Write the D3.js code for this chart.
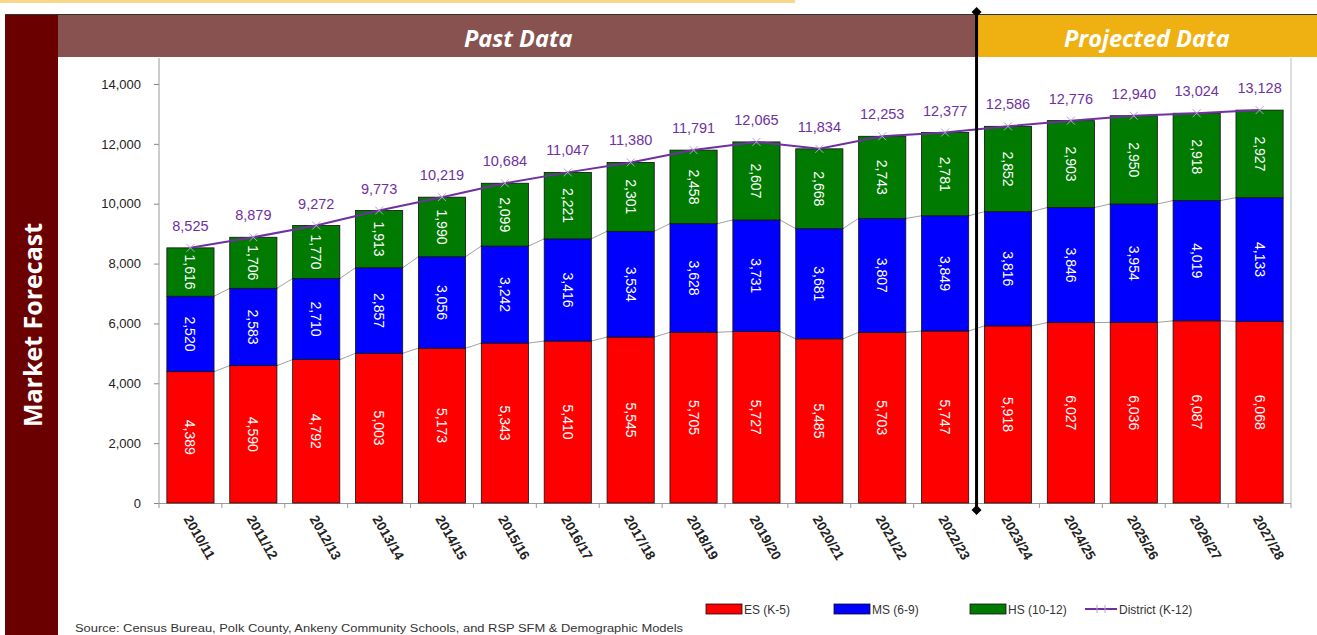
<!DOCTYPE html>
<html><head><meta charset="utf-8">
<script src="https://cdn.jsdelivr.net/npm/d3@7"></script>
<style>body{margin:0;background:#fff;}svg{display:block;}</style>
</head><body>
<svg id="c" width="1317" height="635"></svg>
<script>
const years = ["2010/11","2011/12","2012/13","2013/14","2014/15","2015/16","2016/17","2017/18","2018/19","2019/20","2020/21","2021/22","2022/23","2023/24","2024/25","2025/26","2026/27","2027/28"];
const esValues = [4389,4590,4792,5003,5173,5343,5410,5545,5705,5727,5485,5703,5747,5918,6027,6036,6087,6068];
const msValues = [2520,2583,2710,2857,3056,3242,3416,3534,3628,3731,3681,3807,3849,3816,3846,3954,4019,4133];
const hsValues = [1616,1706,1770,1913,1990,2099,2221,2301,2458,2607,2668,2743,2781,2852,2903,2950,2918,2927];
const districtValues = [8525,8879,9272,9773,10219,10684,11047,11380,11791,12065,11834,12253,12377,12586,12776,12940,13024,13128];
const yTicks = [0,2000,4000,6000,8000,10000,12000,14000];
const pastCount = 13;
const seriesNames = ["ES (K-5)","MS (6-9)","HS (10-12)","District (K-12)"];
const colors = ["#FF0000","#0000FF","#007A00"];
const purple = "#7030A0";

const svg = d3.select("#c");
const L = 159, R = 1291, B = 503, T = 84;
const x = d3.scaleBand().domain(years).range([L, R]).paddingInner(0.25).paddingOuter(0.125);
const y = d3.scaleLinear().domain([0, 14000]).range([B, T]);
const fmt = d3.format(",");
const FONT = "Liberation Sans, Arial, sans-serif";

// top thin line
svg.append("rect").attr("x",0).attr("y",0).attr("width",795).attr("height",3).attr("fill","#F8D68A");
// left bar
svg.append("rect").attr("x",5).attr("y",15).attr("width",53).attr("height",620).attr("fill","#6B0000");
svg.append("text").attr("transform","translate(42,325) rotate(-90)").attr("text-anchor","middle")
  .attr("font-family","Open Sans, sans-serif").attr("font-weight","bold").attr("font-size",25).attr("fill","#fff").text("Market Forecast");

// header bands
const divX = L + (R-L)/years.length*pastCount;
svg.append("rect").attr("x",58).attr("y",15).attr("width",divX-58).attr("height",42).attr("fill","#87524F");
svg.append("rect").attr("x",divX).attr("y",15).attr("width",1317-divX).attr("height",42).attr("fill","#EEB111");
svg.append("line").attr("x1",5).attr("x2",1317).attr("y1",14.5).attr("y2",14.5).attr("stroke","#333").attr("stroke-width",1);
svg.append("text").attr("x",(58+divX)/2+1).attr("y",47).attr("text-anchor","middle").attr("font-family","Open Sans, sans-serif")
  .attr("font-style","italic").attr("font-weight","bold").attr("font-size",23.5).attr("fill","#fff").text("Past Data");
svg.append("text").attr("x",(divX+1317)/2).attr("y",47).attr("text-anchor","middle").attr("font-family","Open Sans, sans-serif")
  .attr("font-style","italic").attr("font-weight","bold").attr("font-size",23.5).attr("fill","#fff").text("Projected Data");

// plot frame line (right)
svg.append("line").attr("x1",R).attr("x2",R).attr("y1",58).attr("y2",B).attr("stroke","#bbb");

// y axis
const yAxis = d3.axisLeft(y).tickValues(yTicks).tickFormat(fmt).tickSize(5).tickSizeOuter(0);
const ga = svg.append("g").attr("transform",`translate(${L},0)`).call(yAxis);
ga.select(".domain").remove();
ga.selectAll(".tick line").attr("stroke","#888");
ga.selectAll("text").attr("font-family",FONT).attr("font-size",13).attr("fill","#222").attr("x",-18);
svg.append("line").attr("x1",L).attr("x2",L).attr("y1",58).attr("y2",B).attr("stroke","#999");

// x axis baseline & ticks at band boundaries
svg.append("line").attr("x1",L).attr("x2",R).attr("y1",B+0.5).attr("y2",B+0.5).attr("stroke","#999");
years.forEach((d,i)=>{
  const bx = L + (R-L)/years.length*i;
  svg.append("line").attr("x1",bx).attr("x2",bx).attr("y1",B).attr("y2",B+5).attr("stroke","#999");
});
svg.append("line").attr("x1",R).attr("x2",R).attr("y1",B).attr("y2",B+5).attr("stroke","#999");
const xAxisG = svg.append("g");
years.forEach(d=>{
  xAxisG.append("text").attr("transform",`translate(${x(d)+x.bandwidth()/2-4},${B+14}) rotate(60)`)
    .attr("font-family",FONT).attr("font-size",13.5).attr("font-weight","bold").attr("fill","#222")
    .attr("dominant-baseline","middle").text(d);
});

// stacked data
const rows = years.map((yr,i)=>({year:yr, es:esValues[i], ms:msValues[i], hs:hsValues[i]}));
const stack = d3.stack().keys(["es","ms","hs"])(rows);

// series lines (connectors)
[0,1].forEach(k=>{
  for(let i=0;i<years.length-1;i++){
    svg.append("line")
      .attr("x1",x(years[i])+x.bandwidth()).attr("y1",y(stack[k][i][1]))
      .attr("x2",x(years[i+1])).attr("y2",y(stack[k][i+1][1]))
      .attr("stroke","#888").attr("stroke-width",0.8);
  }
});

stack.forEach((s,k)=>{
  const g = svg.append("g");
  g.selectAll("rect").data(s).join("rect")
    .attr("x",d=>x(d.data.year)).attr("width",x.bandwidth())
    .attr("y",d=>y(d[1])).attr("height",d=>y(d[0])-y(d[1]))
    .attr("fill",colors[k]).attr("stroke","#111").attr("stroke-width",0.8);
  g.selectAll("text").data(s).join("text")
    .attr("transform",d=>`translate(${x(d.data.year)+x.bandwidth()/2},${(y(d[0])+y(d[1]))/2}) rotate(90)`)
    .attr("text-anchor","middle").attr("dominant-baseline","central")
    .attr("font-family",FONT).attr("font-size",14).attr("fill","#fff")
    .text(d=>fmt(d[1]-d[0]));
});

// district line
const line = d3.line().x((d,i)=>x(years[i])+x.bandwidth()/2).y(d=>y(d));
svg.append("path").datum(districtValues).attr("d",line).attr("fill","none").attr("stroke",purple).attr("stroke-width",2);
districtValues.forEach((v,i)=>{
  const cx = x(years[i])+x.bandwidth()/2, cy = y(v);
  svg.append("path").attr("d",`M${cx-4},${cy-4}L${cx+4},${cy+4}M${cx-4},${cy+4}L${cx+4},${cy-4}`)
    .attr("stroke","#B9A3D6").attr("stroke-width",1);
  svg.append("text").attr("x",cx).attr("y",cy-17).attr("text-anchor","middle")
    .attr("font-family",FONT).attr("font-size",14.5).attr("fill",purple).text(fmt(v));
});

// divider
svg.append("line").attr("x1",divX).attr("x2",divX).attr("y1",12).attr("y2",510).attr("stroke","#000").attr("stroke-width",3);
[12,510].forEach(dy=>{
  svg.append("path").attr("d",`M${divX},${dy-5}L${divX+5},${dy}L${divX},${dy+5}L${divX-5},${dy}Z`).attr("fill","#000");
});

// legend
const lg = svg.append("g").attr("font-family",FONT).attr("font-size",12).attr("fill","#333");
const legX = [706,834,970];
[0,1,2].forEach(k=>{
  lg.append("rect").attr("x",legX[k]).attr("y",604).attr("width",36).attr("height",10).attr("fill",colors[k]).attr("stroke","#111").attr("stroke-width",0.8);
  lg.append("text").attr("x",legX[k]+38).attr("y",613.5).text(seriesNames[k]);
});
lg.append("line").attr("x1",1085).attr("x2",1117).attr("y1",609).attr("y2",609).attr("stroke",purple).attr("stroke-width",2);
lg.append("path").attr("d","M1097,605L1097,613M1105,605L1105,613").attr("stroke","#B9A3D6").attr("stroke-width",1);
lg.append("text").attr("x",1119).attr("y",613.5).text(seriesNames[3]);

svg.append("text").attr("x",75).attr("y",632).attr("font-family",FONT)
  .attr("font-size",10).attr("fill","#333").attr("textLength",608).attr("lengthAdjust","spacingAndGlyphs")
  .text("Source:  Census Bureau, Polk County, Ankeny Community Schools, and RSP SFM & Demographic Models");
</script>
</body></html>
